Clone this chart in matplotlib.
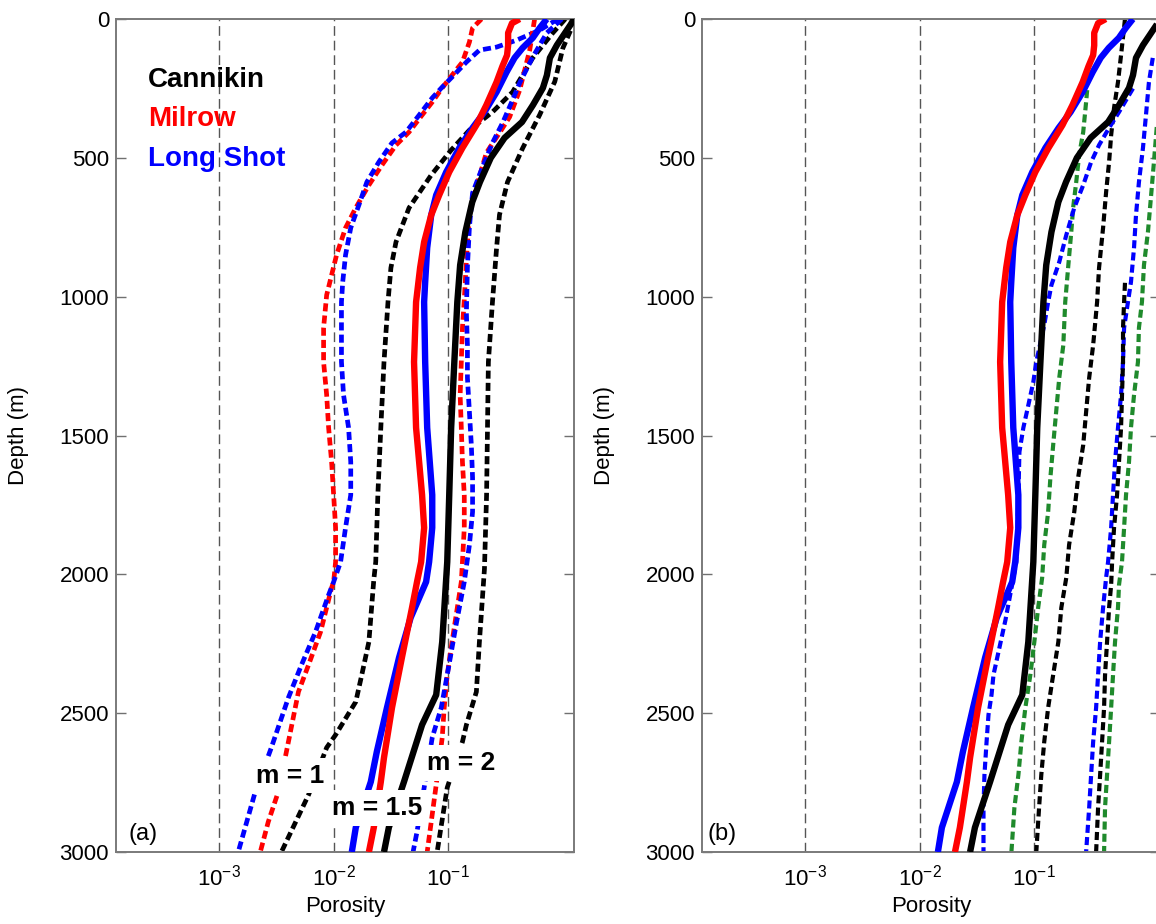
"""Porosity vs depth profiles for Cannikin, Milrow and Long Shot (panels a and b)."""

import matplotlib
matplotlib.use("Agg")
import matplotlib.pyplot as plt
from matplotlib.ticker import FixedLocator, NullLocator

plt.rcParams["font.family"] = ["Liberation Sans", "DejaVu Sans"]
plt.rcParams["mathtext.fontset"] = "custom"
plt.rcParams["mathtext.rm"] = "Liberation Sans"

# ---- data (depth in m, porosity as fraction) ----
cannikin_m15_depth = [0, 20, 94, 140, 202, 248, 310, 371, 428, 500, 587, 659, 767, 886, 1019,
                      1235, 1473, 1714, 1955, 2243, 2434, 2542, 2747, 2912, 3000]
cannikin_m15_phi = [1.25, 1.17, 0.887, 0.771, 0.726, 0.670, 0.548, 0.440, 0.310, 0.235, 0.189,
                    0.162, 0.141, 0.127, 0.120, 0.113, 0.106, 0.102, 0.098, 0.0886, 0.0785,
                    0.0591, 0.0411, 0.0303, 0.0275]

milrow_m15_depth = [0, 15, 50, 95, 130, 170, 227, 310, 382, 464, 551, 634, 706, 803, 896, 1019,
                    1235, 1472, 1714, 1832, 1955, 2027, 2120, 2300, 2480, 2660, 2747, 2912, 3000]
milrow_m15_phi = [0.420, 0.36, 0.333, 0.333, 0.326, 0.297, 0.264, 0.215, 0.176, 0.133, 0.102,
                  0.0834, 0.0710, 0.0616, 0.0568, 0.0524, 0.0503, 0.0524, 0.0591, 0.0616, 0.0580,
                  0.0534, 0.0483, 0.0394, 0.0323, 0.0275, 0.0258, 0.0224, 0.0203]

longshot_m15_depth = [0, 32, 68, 104, 140, 191, 263, 335, 392, 464, 551, 634, 706, 824, 947, 1019,
                      1235, 1472, 1714, 1832, 1955, 2027, 2156, 2300, 2480, 2639, 2747, 2912, 3000]
longshot_m15_phi = [0.724, 0.628, 0.546, 0.446, 0.379, 0.323, 0.264, 0.207, 0.163, 0.125, 0.0960,
                    0.0785, 0.0710, 0.0655, 0.0629, 0.0616, 0.0629, 0.0655, 0.0725, 0.0725, 0.0681,
                    0.0641, 0.0470, 0.0372, 0.0292, 0.0238, 0.0211, 0.0156, 0.0144]

cannikin_m1_depth = [0, 50, 140, 263, 335, 400, 472, 562, 680, 803, 896, 1019, 1235, 1472, 1714,
                     1955, 2020, 2243, 2362, 2459, 2578, 2624, 2794, 3000]
cannikin_m1_phi = [1.05, 0.817, 0.546, 0.364, 0.243, 0.153, 0.106, 0.0710, 0.0455, 0.0350, 0.0316,
                   0.0298, 0.0275, 0.0258, 0.0243, 0.0233, 0.0224, 0.0203, 0.0176, 0.0156, 0.0104,
                   0.00869, 0.00604, 0.00350]

milrow_m1_depth = [0, 32, 83, 155, 202, 248, 299, 346, 407, 454, 526, 598, 680, 752, 850, 922, 994,
                   1112, 1235, 1354, 1472, 1595, 1714, 1832, 1955, 2027, 2048, 2207, 2326, 2423,
                   2603, 2783, 2891, 3000]
milrow_m1_phi = [0.195, 0.163, 0.153, 0.133, 0.108, 0.0886, 0.0725, 0.0591, 0.0455, 0.0350, 0.0264,
                 0.0203, 0.0156, 0.0127, 0.0106, 0.00960, 0.00869, 0.00817, 0.00817, 0.00869,
                 0.00904, 0.00960, 0.0100, 0.0104, 0.0104, 0.0100, 0.00960, 0.00769, 0.00604,
                 0.00493, 0.00403, 0.00329, 0.00269, 0.00229]

longshot_m1_depth = [0, 40, 76, 101, 112, 155, 209, 245, 284, 346, 407, 446, 515, 587, 670, 752,
                     850, 947, 1019, 1112, 1235, 1354, 1472, 1595, 1714, 1832, 1955, 2027, 2074,
                     2207, 2326, 2444, 2624, 2783, 3000]
longshot_m1_phi = [0.904, 0.628, 0.395, 0.264, 0.187, 0.144, 0.108, 0.0886, 0.0725, 0.0557, 0.0428,
                   0.0323, 0.0248, 0.0195, 0.0166, 0.0141, 0.0127, 0.0120, 0.0117, 0.0117, 0.0117,
                   0.0122, 0.0135, 0.0141, 0.0141, 0.0127, 0.0115, 0.0100, 0.00904, 0.00695,
                   0.00524, 0.00403, 0.00286, 0.00207, 0.00147]

cannikin_m2_depth = [0, 30, 105, 225, 345, 465, 587, 705, 825, 1020, 1235, 1473, 1714, 1980, 2243,
                     2423, 2542, 2603, 2768, 3000]
cannikin_m2_phi = [1.25, 1.2, 1.0, 0.851, 0.628, 0.446, 0.329, 0.280, 0.264, 0.243, 0.224, 0.220,
                   0.216, 0.207, 0.187, 0.176, 0.144, 0.133, 0.098, 0.080]

milrow_m2_depth = [0, 112, 256, 353, 410, 482, 605, 698, 868, 1012, 1112, 1235, 1354, 1472, 1595,
                   1714, 1832, 1955, 2027, 2120, 2243, 2362, 2480, 2588, 2758, 2948, 3000]
milrow_m2_phi = [0.567, 0.514, 0.420, 0.343, 0.280, 0.215, 0.176, 0.153, 0.144, 0.138, 0.133, 0.130,
                 0.127, 0.130, 0.133, 0.138, 0.138, 0.133, 0.130, 0.120, 0.108, 0.098, 0.0922,
                 0.0886, 0.0785, 0.0681, 0.0655]

longshot_m2_depth = [0, 50, 137, 230, 292, 374, 446, 533, 626, 749, 893, 1058, 1174, 1292, 1415,
                     1534, 1652, 1775, 1894, 2027, 2182, 2362, 2480, 2588, 2927, 3000]
longshot_m2_phi = [0.980, 0.724, 0.546, 0.420, 0.364, 0.298, 0.243, 0.199, 0.163, 0.153, 0.147,
                   0.144, 0.147, 0.147, 0.153, 0.159, 0.163, 0.163, 0.153, 0.138, 0.117, 0.098,
                   0.0869, 0.0725, 0.0534, 0.0493]

# panel (b) dashed profiles
b_black1_depth = [0, 130, 227, 320, 418, 515, 623, 752, 896, 1019, 1174, 1292, 1415, 1534, 1652,
                  1775, 1894, 2012, 2120, 2243, 2362, 2480, 2603, 2722, 2840, 3000]
b_black1_phi = [0.618, 0.571, 0.537, 0.496, 0.468, 0.449, 0.423, 0.398, 0.367, 0.353, 0.326, 0.301,
                0.283, 0.267, 0.241, 0.223, 0.201, 0.190, 0.172, 0.162, 0.146, 0.132, 0.122, 0.115,
                0.110, 0.104]

b_black2_depth = [950, 1019, 1112, 1235, 1354, 1472, 1595, 1714, 1832, 1955, 2038, 2120, 2243,
                  2362, 2480, 2603, 2722, 2840, 3000]
b_black2_phi = [0.618, 0.607, 0.594, 0.594, 0.582, 0.571, 0.548, 0.527, 0.496, 0.477, 0.468, 0.449,
                0.431, 0.414, 0.406, 0.390, 0.375, 0.360, 0.346]

b_blue1_depth = [250, 274, 335, 392, 454, 515, 598, 680, 778, 875, 958, 1019, 1102, 1235, 1307,
                 1390, 1472, 1559, 1714, 1955, 2164, 2362, 2434, 2506, 2603, 2722, 2840, 3000]
b_blue1_phi = [0.726, 0.670, 0.548, 0.449, 0.367, 0.313, 0.267, 0.223, 0.190, 0.165, 0.141, 0.132,
               0.122, 0.104, 0.098, 0.0887, 0.0802, 0.0741, 0.0726, 0.0697, 0.0560, 0.0440,
               0.0423, 0.0398, 0.0383, 0.0367, 0.0360, 0.0360]

b_blue2_depth = [140, 227, 346, 464, 587, 706, 824, 947, 1019, 1112, 1235, 1354, 1472, 1595, 1714,
                 1832, 1955, 2012, 2120, 2243, 2362, 2480, 2603, 2722, 2840, 3000]
b_blue2_phi = [1.08, 1.0, 0.942, 0.887, 0.818, 0.771, 0.741, 0.697, 0.656, 0.607, 0.594, 0.571,
               0.537, 0.506, 0.486, 0.468, 0.440, 0.423, 0.398, 0.375, 0.360, 0.346, 0.326, 0.313,
               0.301, 0.283]

b_green1_depth = [256, 299, 407, 490, 587, 680, 767, 886, 1019, 1174, 1292, 1415, 1534, 1652, 1775,
                  1894, 2012, 2120, 2243, 2362, 2480, 2603, 2722, 2840, 3000]
b_green1_phi = [0.289, 0.283, 0.267, 0.246, 0.232, 0.218, 0.210, 0.198, 0.186, 0.179, 0.165, 0.155,
                0.146, 0.138, 0.132, 0.122, 0.117, 0.108, 0.100, 0.0923, 0.0835, 0.0771, 0.0726,
                0.0670, 0.0631]

b_green2_depth = [389, 526, 644, 767, 886, 1019, 1112, 1235, 1354, 1472, 1595, 1714, 1832, 1955,
                  2038, 2120, 2243, 2362, 2480, 2603, 2722, 2840, 3000]
b_green2_phi = [1.17, 1.10, 1.04, 0.98, 0.905, 0.869, 0.818, 0.802, 0.741, 0.697, 0.670, 0.631,
                0.607, 0.582, 0.548, 0.537, 0.506, 0.486, 0.468, 0.449, 0.431, 0.414, 0.406]

x_ticks = [1e-3, 1e-2, 1e-1]
x_tick_labels = [r"$\mathregular{10^{-3}}$", r"$\mathregular{10^{-2}}$", r"$\mathregular{10^{-1}}$"]
y_ticks = [0, 500, 1000, 1500, 2000, 2500, 3000]
site_names = ["Cannikin", "Milrow", "Long Shot"]

BLACK = "#000000"
RED = "#ff0000"
BLUE = "#0000ff"
GREEN = "#1f8a2c"
SITE_COLORS = [BLACK, RED, BLUE]

SOLID_LW = 4.6
DASH_LW_A = 3.4
DASH_LW_B = 3.0
DASH_ON = 5.8   # points
DASH_OFF = 3.0  # points


def dashed(ax, phi, depth, color, lw):
    # keep the dash length fixed in points, whatever the width
    pattern = (DASH_ON / lw, DASH_OFF / lw)
    ax.plot(phi, depth, color=color, linewidth=lw, linestyle=(0, pattern),
            dash_capstyle="butt", zorder=2)


def solid(ax, phi, depth, color):
    ax.plot(phi, depth, color=color, linewidth=SOLID_LW, solid_capstyle="butt", zorder=3)


def setup_axis(ax, tag, tag_x):
    ax.set_xscale("log")
    ax.set_xlim(1.26e-4, 1.25)
    ax.set_ylim(3000, 0)
    ax.xaxis.set_major_locator(FixedLocator(x_ticks))
    ax.xaxis.set_minor_locator(NullLocator())
    ax.set_xticklabels(x_tick_labels)
    ax.set_yticks(y_ticks)
    ax.tick_params(axis="both", direction="in", length=7, width=1.0, color="#707070",
                   top=True, right=True, labelsize=16)
    ax.tick_params(axis="x", pad=9, length=0)
    ax.tick_params(axis="y", pad=5)
    ax.grid(True, axis="x", linestyle=(0, (7, 3.5)), color="#555555", linewidth=1.0)
    ax.set_axisbelow(True)
    for spine in ax.spines.values():
        spine.set_color("#7a7a7a")
        spine.set_linewidth(1.4)
    ax.set_xlabel("Porosity", fontsize=16, labelpad=4)
    ax.set_ylabel("Depth (m)", fontsize=16, labelpad=22)
    ax.text(tag_x, 0.014, tag, transform=ax.transAxes, fontsize=17, va="baseline", ha="left")


fig = plt.figure(figsize=(11.56, 9.24), dpi=100)
ax_a = fig.add_axes([0.1003, 0.0779, 0.3962, 0.9015])
ax_b = fig.add_axes([0.6073, 0.0779, 0.3962, 0.9015])

# panel (a): m = 1, 1.5, 2
dashed(ax_a, cannikin_m1_phi, cannikin_m1_depth, BLACK, DASH_LW_A)
dashed(ax_a, milrow_m1_phi, milrow_m1_depth, RED, DASH_LW_A)
dashed(ax_a, longshot_m1_phi, longshot_m1_depth, BLUE, DASH_LW_A)
dashed(ax_a, cannikin_m2_phi, cannikin_m2_depth, BLACK, DASH_LW_A)
dashed(ax_a, milrow_m2_phi, milrow_m2_depth, RED, DASH_LW_A)
dashed(ax_a, longshot_m2_phi, longshot_m2_depth, BLUE, DASH_LW_A)
solid(ax_a, longshot_m15_phi, longshot_m15_depth, BLUE)
solid(ax_a, milrow_m15_phi, milrow_m15_depth, RED)
solid(ax_a, cannikin_m15_phi, cannikin_m15_depth, BLACK)
setup_axis(ax_a, "(a)", 0.028)

for i, (name, color) in enumerate(zip(site_names, SITE_COLORS)):
    ax_a.text(0.070, 0.918 - i * 0.047, name, transform=ax_a.transAxes, color=color,
              fontsize=20, fontweight="bold", va="baseline", ha="left", zorder=5)

box = dict(facecolor="white", edgecolor="none", boxstyle="square,pad=0.22")
ax_a.text(0.00211, 2750, "m = 1", fontsize=19, fontweight="bold", va="baseline",
          ha="left", bbox=box, zorder=6)
ax_a.text(0.0096, 2866, "m = 1.5", fontsize=19, fontweight="bold", va="baseline",
          ha="left", bbox=box, zorder=6)
ax_a.text(0.0655, 2704, "m = 2", fontsize=19, fontweight="bold", va="baseline",
          ha="left", bbox=box, zorder=6)

# panel (b)
dashed(ax_b, b_black1_phi, b_black1_depth, BLACK, DASH_LW_B)
dashed(ax_b, b_green1_phi, b_green1_depth, GREEN, DASH_LW_B)
dashed(ax_b, b_blue1_phi, b_blue1_depth, BLUE, DASH_LW_B)
dashed(ax_b, b_blue2_phi, b_blue2_depth, BLUE, DASH_LW_B)
dashed(ax_b, b_black2_phi, b_black2_depth, BLACK, DASH_LW_B)
dashed(ax_b, b_green2_phi, b_green2_depth, GREEN, DASH_LW_B)
solid(ax_b, longshot_m15_phi, longshot_m15_depth, BLUE)
solid(ax_b, milrow_m15_phi, milrow_m15_depth, RED)
solid(ax_b, cannikin_m15_phi, cannikin_m15_depth, BLACK)
setup_axis(ax_b, "(b)", 0.013)

fig.savefig("out.png", dpi=100)
plt.close(fig)
